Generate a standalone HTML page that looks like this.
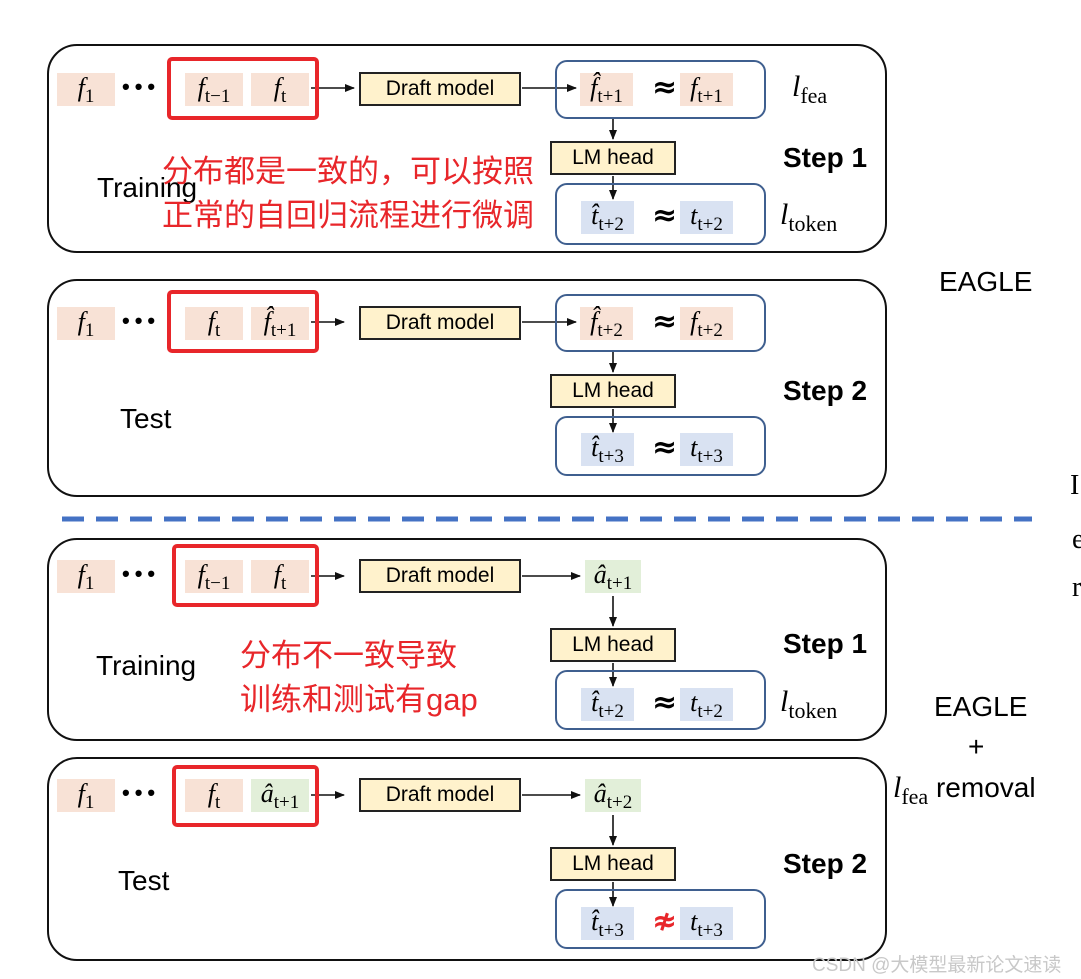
<!DOCTYPE html>
<html><head><meta charset="utf-8"><style>
body{margin:0;width:1081px;height:979px;background:#fff;position:relative;overflow:hidden;font-family:"Liberation Sans","Noto Sans CJK SC",sans-serif}
div{position:absolute;box-sizing:border-box}
.p{border:2px solid #111;border-radius:30px;left:47px;width:840px}
.r{border:4px solid #e8262a;border-radius:5px}
.v{text-align:center;font-family:"Liberation Serif",serif;font-size:26px;height:33px;line-height:30px;white-space:nowrap}
.v i{font-style:italic}
.v sub{font-size:19px;position:relative;top:1px;vertical-align:-5px;font-style:normal;line-height:0}
.pe{background:#f8e2d6}.bl{background:#d9e2f2}.gr{background:#e2efd9}
.y{background:#fff2cc;border:2px solid #222;font-size:21px;display:flex;align-items:center;justify-content:center;height:34px}
.b{border:2px solid #3f5f8f;border-radius:12px;left:555px;width:211px}
.ap{font-size:30px;font-weight:bold;font-family:"DejaVu Sans",sans-serif}
.t{font-size:28px;white-space:nowrap}
.st{font-size:28px;font-weight:bold;white-space:nowrap}
.cn{color:#e8262a;font-size:31px;line-height:44px;white-space:nowrap}
.dots{font-size:22px;font-weight:bold;letter-spacing:5px}
.l{font-family:"Liberation Serif",serif;font-size:30px;font-style:italic;white-space:nowrap}
.l sub{font-style:normal;font-size:22px;vertical-align:-7px}
</style></head><body>
<div class="p" style="top:44px;height:209px"></div>
<div class="p" style="top:279px;height:218px"></div>
<div class="p" style="top:538px;height:203px"></div>
<div class="p" style="top:757px;height:204px"></div>

<svg style="position:absolute;left:0;top:0" width="1081" height="979">
<defs><marker id="a" markerWidth="10" markerHeight="8" refX="9" refY="4" orient="auto" markerUnits="userSpaceOnUse"><path d="M0,0L10,4L0,8z" fill="#111"/></marker></defs>
<g stroke="#111" stroke-width="1.6" marker-end="url(#a)">
<line x1="311" y1="88" x2="354" y2="88"/><line x1="522" y1="88" x2="576" y2="88"/>
<line x1="613" y1="118" x2="613" y2="139"/><line x1="613" y1="176" x2="613" y2="199"/>
<line x1="311" y1="322" x2="344" y2="322"/><line x1="522" y1="322" x2="576" y2="322"/>
<line x1="613" y1="351" x2="613" y2="372"/><line x1="613" y1="409" x2="613" y2="432"/>
<line x1="311" y1="576" x2="344" y2="576"/><line x1="522" y1="576" x2="580" y2="576"/>
<line x1="613" y1="596" x2="613" y2="626"/><line x1="613" y1="663" x2="613" y2="686"/>
<line x1="311" y1="795" x2="344" y2="795"/><line x1="522" y1="795" x2="580" y2="795"/>
<line x1="613" y1="815" x2="613" y2="845"/><line x1="613" y1="882" x2="613" y2="906"/>
</g>
<line x1="62" y1="519" x2="1032" y2="519" stroke="#4472c4" stroke-width="5" stroke-dasharray="22,12"/>
</svg>

<!-- Panel 1 -->
<div class="v pe" style="left:57px;top:73px;width:58px"><i>f</i><sub>1</sub></div>
<div class="dots" style="left:122px;top:74px">•••</div>
<div class="v pe" style="left:185px;top:73px;width:58px"><i>f</i><sub>t−1</sub></div>
<div class="v pe" style="left:251px;top:73px;width:58px"><i>f</i><sub>t</sub></div>
<div class="r" style="left:167px;top:57px;width:152px;height:63px"></div>
<div class="y" style="left:359px;top:72px;width:162px">Draft model</div>
<div class="b" style="top:60px;height:59px"></div>
<div class="v pe" style="left:580px;top:73px;width:53px"><i>f̂</i><sub>t+1</sub></div>
<div class="ap" style="left:652px;top:70px">≈</div>
<div class="v pe" style="left:680px;top:73px;width:53px"><i>f</i><sub>t+1</sub></div>
<div class="l" style="left:792px;top:70px">l<sub>fea</sub></div>
<div class="y" style="left:550px;top:141px;width:126px">LM head</div>
<div class="b" style="top:183px;height:62px"></div>
<div class="v bl" style="left:581px;top:201px;width:53px"><i>t̂</i><sub>t+2</sub></div>
<div class="ap" style="left:652px;top:198px">≈</div>
<div class="v bl" style="left:680px;top:201px;width:53px"><i>t</i><sub>t+2</sub></div>
<div class="l" style="left:780px;top:198px">l<sub>token</sub></div>
<div class="st" style="left:783px;top:142px">Step 1</div>
<div class="t" style="left:97px;top:172px">Training</div>
<div class="cn" style="left:162px;top:150px">分布都是一致的，可以按照<br>正常的自回归流程进行微调</div>

<!-- Panel 2 -->
<div class="v pe" style="left:57px;top:307px;width:58px"><i>f</i><sub>1</sub></div>
<div class="dots" style="left:122px;top:308px">•••</div>
<div class="v pe" style="left:185px;top:307px;width:58px"><i>f</i><sub>t</sub></div>
<div class="v pe" style="left:251px;top:307px;width:58px"><i>f̂</i><sub>t+1</sub></div>
<div class="r" style="left:167px;top:290px;width:152px;height:63px"></div>
<div class="y" style="left:359px;top:306px;width:162px">Draft model</div>
<div class="b" style="top:294px;height:58px"></div>
<div class="v pe" style="left:580px;top:307px;width:53px"><i>f̂</i><sub>t+2</sub></div>
<div class="ap" style="left:652px;top:304px">≈</div>
<div class="v pe" style="left:680px;top:307px;width:53px"><i>f</i><sub>t+2</sub></div>
<div class="y" style="left:550px;top:374px;width:126px">LM head</div>
<div class="b" style="top:416px;height:60px"></div>
<div class="v bl" style="left:581px;top:433px;width:53px"><i>t̂</i><sub>t+3</sub></div>
<div class="ap" style="left:652px;top:430px">≈</div>
<div class="v bl" style="left:680px;top:433px;width:53px"><i>t</i><sub>t+3</sub></div>
<div class="st" style="left:783px;top:375px">Step 2</div>
<div class="t" style="left:120px;top:403px">Test</div>

<!-- Panel 3 -->
<div class="v pe" style="left:57px;top:560px;width:58px"><i>f</i><sub>1</sub></div>
<div class="dots" style="left:122px;top:561px">•••</div>
<div class="v pe" style="left:185px;top:560px;width:58px"><i>f</i><sub>t−1</sub></div>
<div class="v pe" style="left:251px;top:560px;width:58px"><i>f</i><sub>t</sub></div>
<div class="r" style="left:172px;top:544px;width:147px;height:63px"></div>
<div class="y" style="left:359px;top:559px;width:162px">Draft model</div>
<div class="v gr" style="left:585px;top:560px;width:56px"><i>â</i><sub>t+1</sub></div>
<div class="y" style="left:550px;top:628px;width:126px">LM head</div>
<div class="b" style="top:670px;height:60px"></div>
<div class="v bl" style="left:581px;top:688px;width:53px"><i>t̂</i><sub>t+2</sub></div>
<div class="ap" style="left:652px;top:685px">≈</div>
<div class="v bl" style="left:680px;top:688px;width:53px"><i>t</i><sub>t+2</sub></div>
<div class="l" style="left:780px;top:685px">l<sub>token</sub></div>
<div class="st" style="left:783px;top:628px">Step 1</div>
<div class="t" style="left:96px;top:650px">Training</div>
<div class="cn" style="left:240px;top:634px">分布不一致导致<br>训练和测试有gap</div>

<!-- Panel 4 -->
<div class="v pe" style="left:57px;top:779px;width:58px"><i>f</i><sub>1</sub></div>
<div class="dots" style="left:122px;top:780px">•••</div>
<div class="v pe" style="left:185px;top:779px;width:58px"><i>f</i><sub>t</sub></div>
<div class="v gr" style="left:251px;top:779px;width:58px"><i>â</i><sub>t+1</sub></div>
<div class="r" style="left:172px;top:765px;width:147px;height:62px"></div>
<div class="y" style="left:359px;top:778px;width:162px">Draft model</div>
<div class="v gr" style="left:585px;top:779px;width:56px"><i>â</i><sub>t+2</sub></div>
<div class="y" style="left:550px;top:847px;width:126px">LM head</div>
<div class="b" style="top:889px;height:60px"></div>
<div class="v bl" style="left:581px;top:907px;width:53px"><i>t̂</i><sub>t+3</sub></div>
<div class="ap" style="left:652px;top:904px;color:#e8262a">≉</div>
<div class="v bl" style="left:680px;top:907px;width:53px"><i>t</i><sub>t+3</sub></div>
<div class="st" style="left:783px;top:848px">Step 2</div>
<div class="t" style="left:118px;top:865px">Test</div>

<!-- Right labels -->
<div class="t" style="left:939px;top:266px">EAGLE</div>
<div class="t" style="left:934px;top:691px">EAGLE</div>
<div class="t" style="left:968px;top:731px">+</div>
<div class="t" style="left:893px;top:771px"><span class="l" style="position:static">l<sub>fea</sub></span> removal</div>
<div style="left:1070px;top:470px;font-family:'Liberation Serif',serif;font-size:28px">I</div>
<div style="left:1072px;top:524px;font-family:'Liberation Serif',serif;font-size:28px">e</div>
<div style="left:1072px;top:572px;font-family:'Liberation Serif',serif;font-size:28px">r</div>
<div style="left:812px;top:950px;font-size:19px;color:#c8c8c8;white-space:nowrap">CSDN @大模型最新论文速读</div>
</body></html>
